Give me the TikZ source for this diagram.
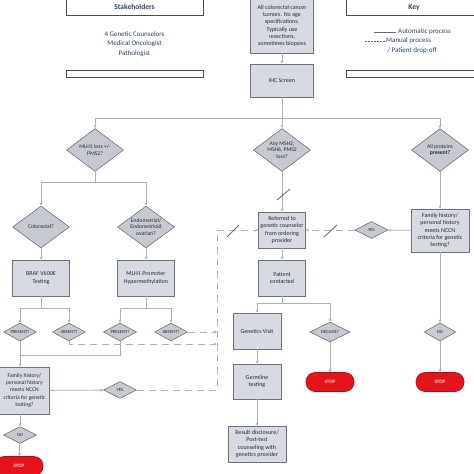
\documentclass[tikz,border=0pt]{standalone}
\usepackage{fontspec}
\setmainfont{Carlito}
\usetikzlibrary{arrows.meta,shapes.geometric}

\definecolor{boxfill}{HTML}{D7DAE0}
\definecolor{diafill}{HTML}{C6C9CF}
\definecolor{boxline}{HTML}{6C7279}
\definecolor{linegray}{HTML}{AEB0B3}
\definecolor{navy}{HTML}{2B4462}
\definecolor{textgray}{HTML}{222B36}
\definecolor{stopred}{HTML}{E5141B}

\begin{document}
\begin{tikzpicture}[x=1pt,y=-1pt,
    box/.style={draw=boxline, fill=boxfill, line width=0.6pt, minimum width=47pt, minimum height=36pt,
        inner sep=1pt, align=center, text=textgray, font=\fontsize{6}{7.3}\selectfont},
    dia/.style={diamond, draw=boxline, fill=diafill, line width=0.6pt, inner sep=0pt},
    diatext/.style={align=center, inner sep=0pt, text=textgray, font=\fontsize{5.6}{6.6}\selectfont},
    smalltext/.style={diatext, font=\fontsize{4.6}{5.5}\selectfont},
    stopbox/.style={fill=stopred, draw=stopred!75!black, line width=0.6pt, rounded corners=9pt,
        minimum width=48pt, minimum height=19pt, text=white!85!red, font=\fontsize{5}{6}\selectfont\bfseries},
    flow/.style={draw=linegray, line width=0.8pt},
    arr/.style={flow, -{Stealth[length=3.2pt,width=3.2pt]}},
    manual/.style={arr, dash pattern=on 7pt off 5pt},
    dropoff/.style={draw=boxline, line width=0.9pt},
    headline/.style={draw=black!70, line width=1pt, fill=white},
    headtext/.style={text=navy, font=\fontsize{7.5}{9}\selectfont\bfseries}
]
\useasboundingbox (0,0) rectangle (474,474);
\clip (0,0) rectangle (474,474);

\draw[headline] (66,-30) rectangle (203,15);
\node[headtext] (stake) at (134.5,7) {Stakeholders};
\node[align=center, text=navy, font=\fontsize{7}{9.3}\selectfont] (people) at (134.5,44)
    {4 Genetic Counselors\\Medical Oncologist\\Pathologist};
\draw[headline] (66,70) rectangle (203,77);

\draw[headline] (346,-30) rectangle (490,15);
\node[headtext] (key) at (414,8) {Key};
\draw[flow, draw=black!60] (374,32) -- (396,32);
\node[anchor=west, text=navy, font=\fontsize{7}{8}\selectfont, inner sep=1pt] (auto) at (397,32) {Automatic process};
\draw[draw=black!60, line width=0.7pt, dash pattern=on 1.5pt off 1.5pt] (365,41) -- (385,41);
\node[anchor=west, text=navy, font=\fontsize{7}{8}\selectfont, inner sep=1pt] (manu) at (385,41) {Manual process};
\node[text=navy, font=\fontsize{7}{8}\selectfont, inner sep=1pt] (drop) at (412,51) {/ Patient drop-off};
\draw[headline] (346,70) rectangle (490,77);

\node[box, minimum width=63pt, minimum height=54pt] (tumors) at (282,26)
    {All colorectal cancer\\tumors. No age\\specifications.\\Typically use\\resections,\\sometimes biopsies};
\node[box, minimum width=63pt, minimum height=33pt] (ihc) at (282,80.5) {IHC Screen};

\node[dia, minimum width=57pt, minimum height=43pt, label={[diatext]center:{MLH1 loss +/-\\PMS2?}}] (mlh) at (95,150) {};
\node[dia, minimum width=57pt, minimum height=43pt, label={[diatext]center:{Any MSH2,\\MSH6, PMS2\\loss?}}] (msh) at (282,150) {};
\node[dia, minimum width=57pt, minimum height=43pt, label={[diatext]center:{All proteins\\\textbf{present?}}}] (allp) at (440,150) {};

\node[dia, minimum width=57pt, minimum height=42pt, label={[diatext]center:{Colorectal?}}] (col) at (41,227) {};
\node[dia, minimum width=57pt, minimum height=42pt, label={[diatext]center:{Endometrial/\\Endometrioid\\ovarian?}}] (endo) at (146,227) {};
\node[box, minimum width=57pt] (braf) at (41,278) {BRAF V600E\\Testing};
\node[box, minimum width=57pt] (prom) at (146,278) {MLH1 Promoter\\Hypermethylation};

\node[dia, minimum width=33pt, minimum height=18pt, label={[smalltext]center:{PRESENT?}}] (pres1) at (20,332) {};
\node[dia, minimum width=33pt, minimum height=18pt, label={[smalltext]center:{ABSENT?}}] (abs1) at (69,332) {};
\node[dia, minimum width=33pt, minimum height=18pt, label={[smalltext]center:{PRESENT?}}] (pres2) at (120,332) {};
\node[dia, minimum width=33pt, minimum height=18pt, label={[smalltext]center:{ABSENT?}}] (abs2) at (171,332) {};

\node[box, minimum width=50pt, minimum height=47pt, font=\fontsize{5.6}{7.3}\selectfont] (famL) at (24.5,390.5)
    {Family history/\\personal history\\meets NCCN\\criteria for genetic\\testing?};
\node[dia, minimum width=33pt, minimum height=17pt, label={[smalltext]center:{YES}}] (yesL) at (120,390) {};
\node[dia, minimum width=33pt, minimum height=17pt, label={[smalltext]center:{NO}}] (noL) at (20,435) {};
\node[stopbox] (stopL) at (19,466) {STOP};

\node[box] (refer) at (282,230) {Referred to\\genetic counselor\\from ordering\\provider};
\node[box] (pat) at (282,278) {Patient\\contacted};
\node[box, minimum width=48pt] (gv) at (257,331) {Genetics Visit};
\node[dia, minimum width=40pt, minimum height=20pt, label={[smalltext]center:{DECLINE?}}] (decl) at (330,332) {};
\node[stopbox] (stopM) at (330,382) {STOP};
\node[box, minimum width=48pt, minimum height=35pt] (germ) at (257,381.5) {Germline\\testing};
\node[box, minimum width=58pt] (result) at (257,444) {Result disclosure/\\Post-test\\counseling with\\genetics provider};

\node[box, minimum width=58pt, minimum height=43pt] (famR) at (440,230.5)
    {Family history/\\personal history\\meets NCCN\\criteria for genetic\\testing?};
\node[dia, minimum width=33pt, minimum height=17pt, label={[smalltext]center:{YES}}] (yesR) at (371.5,230) {};
\node[dia, minimum width=32pt, minimum height=18pt, label={[smalltext]center:{NO}}] (noR) at (440,332) {};
\node[stopbox] (stopR) at (440,382) {STOP};

\coordinate (split1) at (282,118);
\coordinate (split2) at (95,182);
\coordinate (split3) at (41,308);
\coordinate (split4) at (146,308);
\coordinate (split5) at (282,303);
\coordinate (join1) at (20,355);
\coordinate (mtop) at (217,230);
\coordinate (mabs1) at (217,344);
\coordinate (mabs2) at (217,332);

\draw[arr] (tumors) -- (ihc);
\draw[flow] (ihc) -- (split1);
\draw[arr] (split1) -| (mlh.north);
\draw[arr] (split1) -- (msh);
\draw[arr] (split1) -| (allp.north);

\draw[flow] (mlh) -- (split2);
\draw[arr] (split2) -| (col.north);
\draw[arr] (split2) -| (endo.north);
\draw[arr] (col) -- (braf);
\draw[arr] (endo) -- (prom);
\draw[flow] (braf) -- (split3);
\draw[arr] (split3) -| (pres1.north);
\draw[arr] (split3) -| (abs1.north);
\draw[flow] (prom) -- (split4);
\draw[arr] (split4) -| (pres2.north);
\draw[arr] (split4) -| (abs2.north);

\draw[arr] (pres1) -- (pres1 |- famL.north);
\draw[flow] (pres2) |- (join1);
\draw[arr] (famL) -- (yesL);
\draw[arr] (noL |- famL.south) -- (noL);
\draw[arr] (noL) -- (stopL);

\draw[manual] (yesL.east) -| (mtop) -- (refer.west);
\draw[manual] (abs1.south) |- (mabs1);
\draw[manual] (abs2.east) -- (mabs2);
\draw[dropoff] (227,237) -- (239,225);

\draw[arr] (msh) -- (refer);
\draw[dropoff] (277,200) -- (290,189);
\draw[arr] (refer) -- (pat);
\draw[flow] (pat) -- (split5);
\draw[arr] (split5) -| (gv.north);
\draw[arr] (split5) -| (decl.north);
\draw[arr] (gv) -- (germ);
\draw[arr] (germ) -- (result);
\draw[arr] (decl) -- (stopM);

\draw[arr] (allp) -- (famR);
\draw[arr] (famR) -- (yesR);
\draw[manual] (yesR) -- (refer);
\draw[dropoff] (324,237) -- (337,225);
\draw[arr] (famR) -- (noR);
\draw[arr] (noR) -- (stopR);
\end{tikzpicture}
\end{document}
